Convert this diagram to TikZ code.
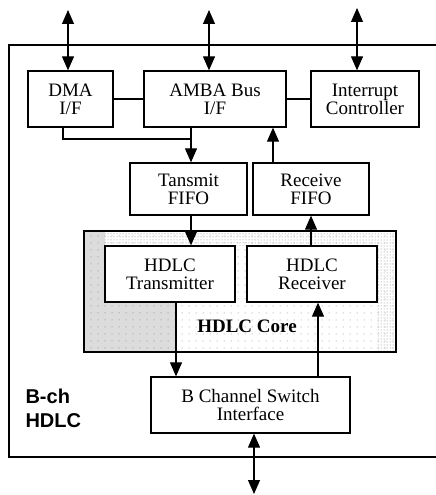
\documentclass[tikz,border=0pt]{standalone}
\usepackage{fontspec}
\setmainfont{Liberation Serif}
\newfontfamily\labsans{Liberation Sans}
\usetikzlibrary{arrows.meta,patterns,patterns.meta}
\begin{document}
\begin{tikzpicture}[x=1pt,y=-1pt,
  blk/.style={draw=black,line width=1.3pt,fill=white,inner sep=0pt,align=center,
    font=\fontsize{19}{18}\selectfont},
  con/.style={line width=1.1pt},
  arr/.style={con,-{Triangle[length=14pt,width=12pt]}},
  darr/.style={con,{Triangle[length=14pt,width=12pt]}-{Triangle[length=14pt,width=12pt]}}]
\useasboundingbox (0,0) rectangle (436,495);
% outer frame (right edge outside the picture)
\draw[line width=1.1pt] (436,45) -- (9,45) -- (9,457) -- (436,457);
% HDLC core with stipple
\coordinate (coreNW) at (84,231);
\coordinate (coreSE) at (396,352);
\fill[pattern={Dots[distance=7pt,radius=0.5pt]},pattern color=gray] (coreNW) rectangle (coreSE);
\fill[pattern={Dots[distance=3pt,radius=0.5pt]},pattern color=gray]
  (105,231) -- (396,231) -- (396,352) -- (377,352) -- (377,246) -- (105,246) -- cycle;
\fill[pattern={Dots[distance=2pt,radius=0.55pt]},pattern color=gray!80!black]
  (84,231) -- (105,231) -- (105,302) -- (176,302) -- (176,352) -- (84,352) -- cycle;
\node[draw=black,line width=1.3pt,minimum width=312pt,minimum height=121pt,inner sep=0pt] (core) at (240,291.5) {};
\node[font=\bfseries\fontsize{19}{18}\selectfont] (corelab) at (247,326) {HDLC Core};
% blocks
\node[blk,minimum width=85pt,minimum height=56pt] (dma) at (70.5,99) {DMA\\I/F};
\node[blk,minimum width=142pt,minimum height=56pt] (amba) at (215,99) {AMBA Bus\\I/F};
\node[blk,minimum width=108pt,minimum height=56pt] (intr) at (365,99) {Interrupt\\Controller};
\node[blk,minimum width=117pt,minimum height=52pt] (txf) at (188.5,189) {Tansmit\\FIFO};
\node[blk,minimum width=116pt,minimum height=52pt] (rxf) at (311,189) {Receive\\FIFO};
\node[blk,minimum width=130pt,minimum height=56pt] (tx) at (170,274) {HDLC\\Transmitter};
\node[blk,minimum width=130pt,minimum height=56pt] (rx) at (312,274) {HDLC\\Receiver};
\node[blk,minimum width=199pt,minimum height=56pt] (bch) at (250.5,405) {B Channel Switch\\Interface};
\node[font=\labsans\bfseries\fontsize{20}{24}\selectfont,align=left,anchor=west] (bchl) at (22,408) {B-ch\\HDLC};
% x positions of connectors
\coordinate (xd) at (68,0);
\coordinate (xa) at (209,0);
\coordinate (xi) at (357,0);
\coordinate (xdb) at (63,0);
\coordinate (xt) at (191,0);
\coordinate (xr) at (273,0);
\coordinate (xrr) at (311,0);
\coordinate (xtb) at (176,0);
\coordinate (xbr) at (318,0);
\coordinate (xb) at (254,0);
\coordinate (topd) at (68,10);
\coordinate (topa) at (209,10);
\coordinate (topi) at (357,8);
\coordinate (bot) at (254,494);
\coordinate (join) at (191,139);
% connectors
\draw[darr] (topd) -- (dma.north -| xd);
\draw[darr] (topa) -- (amba.north -| xa);
\draw[darr] (topi) -- (intr.north -| xi);
\draw[con] (dma.east) -- (amba.west);
\draw[con] (amba.east) -- (intr.west);
\draw[con] (dma.south -| xdb) |- (join);
\draw[arr] (amba.south -| xt) -- (txf.north -| xt);
\draw[arr] (rxf.north -| xr) -- (amba.south -| xr);
\draw[arr] (txf.south -| xt) -- (tx.north -| xt);
\draw[arr] (rx.north -| xrr) -- (rxf.south -| xrr);
\draw[arr] (tx.south -| xtb) -- (bch.north -| xtb);
\draw[arr] (bch.north -| xbr) -- (rx.south -| xbr);
\draw[darr] (bch.south -| xb) -- (bot);
\end{tikzpicture}
\end{document}
